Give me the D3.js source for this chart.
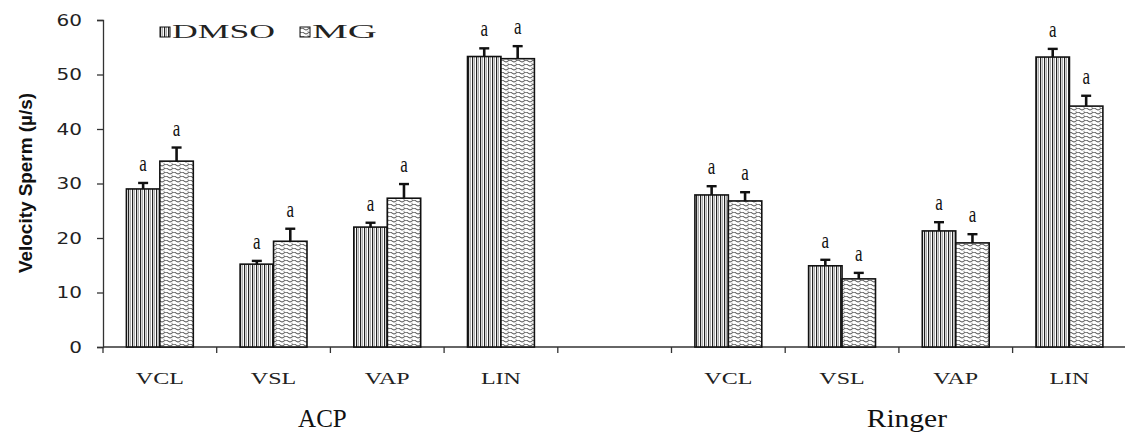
<!DOCTYPE html>
<html>
<head>
<meta charset="utf-8">
<script src="https://cdn.jsdelivr.net/npm/d3@7"></script>
<style>
  body { margin: 0; background: #fff; }
  svg { display: block; }
</style>
</head>
<body>
<svg id="chart" width="1125" height="437"></svg>
<script>
// values
let groups = ["ACP", "Ringer"];
let params = ["VCL", "VSL", "VAP", "LIN"];
let series = ["DMSO", "MG"];
let dmso = [29.0, 15.2, 22.0, 53.3, 27.9, 14.9, 21.3, 53.2];
let dmsoErr = [1.1, 0.6, 0.8, 1.5, 1.6, 1.1, 1.6, 1.5];
let mg = [34.1, 19.4, 27.3, 52.9, 26.8, 12.5, 19.1, 44.2];
let mgErr = [2.5, 2.3, 2.6, 2.3, 1.6, 1.1, 1.6, 1.9];
let sig = ["a", "a", "a", "a", "a", "a", "a", "a"];
let yTicks = [0, 10, 20, 30, 40, 50, 60];

// slots: 4 params, empty gap, 4 params
let slots = [];
groups.forEach(function(g, gi){
  params.forEach(function(p){ slots.push(g + "-" + p); });
  if(gi == 0) slots.push("gap");
});

let svg = d3.select("#chart");
let left = 103, zeroY = 347, topY = 20;
let serif = "Liberation Serif, Times New Roman, serif";

let x0 = d3.scaleBand().domain(slots).range([left, left + 9 * 113.7]).padding(0);
let x1 = d3.scaleBand().domain(series).range([0, x0.bandwidth()]).paddingInner(0).paddingOuter(0.7);
let y = d3.scaleLinear().domain([0, 60]).range([zeroY, topY]);

// stretch a text element horizontally, the figure's fonts are wide
function stretch(sel, k){
  sel.each(function(){
    let w = this.getComputedTextLength();
    d3.select(this).attr("textLength", w * k).attr("lengthAdjust", "spacingAndGlyphs");
  });
}

// patterns
let defs = svg.append("defs");
let pv = defs.append("pattern").attr("id", "vstripe").attr("patternUnits", "userSpaceOnUse")
  .attr("width", 4).attr("height", 4);
pv.append("rect").attr("width", 4).attr("height", 4).attr("fill", "#fff");
pv.append("rect").attr("x", 0).attr("width", 1.2).attr("height", 4).attr("fill", "#222");
pv.append("rect").attr("x", 2).attr("width", 0.8).attr("height", 4).attr("fill", "#999");

let pw = defs.append("pattern").attr("id", "wave").attr("patternUnits", "userSpaceOnUse")
  .attr("width", 8).attr("height", 4);
pw.append("rect").attr("width", 8).attr("height", 4).attr("fill", "#fff");
pw.append("path").attr("d", "M0,1 Q2,3.2 4,1 T8,1").attr("fill", "none")
  .attr("stroke", "#333").attr("stroke-width", 0.9);
pw.append("rect").attr("x", 3.5).attr("y", 2.8).attr("width", 1).attr("height", 1).attr("fill", "#777");

let fills = {DMSO: "url(#vstripe)", MG: "url(#wave)"};

// axes
let yAxis = d3.axisLeft(y).tickValues(yTicks).tickSize(6).tickPadding(15);
let gy = svg.append("g").attr("transform", "translate(" + left + ",0)").call(yAxis);
gy.select(".domain").attr("stroke", "#333").attr("stroke-width", 1.3);
gy.selectAll(".tick line").attr("stroke", "#333").attr("stroke-width", 1.3);
gy.selectAll("text").attr("font-family", "DejaVu Sans, Verdana, sans-serif")
  .attr("font-size", 16).attr("fill", "#222");
stretch(gy.selectAll("text"), 1.25);

svg.append("line").attr("x1", left).attr("x2", x0.range()[1]).attr("y1", zeroY).attr("y2", zeroY)
  .attr("stroke", "#333").attr("stroke-width", 1.3);
let bounds = slots.map(function(s){ return x0(s); });
svg.selectAll("line.xt").data(bounds).enter().append("line").attr("class", "xt")
  .attr("x1", d => d).attr("x2", d => d).attr("y1", zeroY).attr("y2", zeroY + 6)
  .attr("stroke", "#333").attr("stroke-width", 1.3);

// category labels
let cats = slots.filter(s => s != "gap");
let catText = svg.selectAll("text.cat").data(cats).enter().append("text").attr("class", "cat")
  .attr("x", d => x0(d) + x0.bandwidth() / 2).attr("y", 384)
  .attr("text-anchor", "middle").attr("font-family", serif)
  .attr("font-size", 16).attr("fill", "#222")
  .text(d => d.split("-")[1]);
stretch(catText, 1.5);

// group labels
let groupShift = [-8, 8];
let groupStretch = [1.0, 1.18];
groups.forEach(function(g, gi){
  let gs = slots.filter(s => s.indexOf(g + "-") == 0);
  let cx = (x0(gs[0]) + x0(gs[gs.length - 1]) + x0.bandwidth()) / 2;
  let t = svg.append("text").attr("x", cx + groupShift[gi]).attr("y", 427).attr("text-anchor", "middle")
    .attr("font-family", serif).attr("font-size", 25)
    .attr("fill", "#111").text(g);
  stretch(t, groupStretch[gi]);
});

// y title
let yt = svg.append("text").attr("transform", "translate(32," + 183 + ") rotate(-90)")
  .attr("text-anchor", "middle").attr("font-family", "Liberation Sans Narrow, Arial Narrow, Liberation Sans, sans-serif")
  .attr("font-weight", "bold").attr("font-size", 19).attr("fill", "#111")
  .text("Velocity Sperm (µ/s)");
yt.attr("textLength", 180).attr("lengthAdjust", "spacingAndGlyphs");

// bars
let rows = [];
cats.forEach(function(c, i){
  rows.push({cat: c, s: "DMSO", v: dmso[i], e: dmsoErr[i], lab: sig[i]});
  rows.push({cat: c, s: "MG", v: mg[i], e: mgErr[i], lab: sig[i]});
});

let bars = svg.append("g");
bars.selectAll("rect").data(rows).enter().append("rect")
  .attr("x", d => x0(d.cat) + x1(d.s)).attr("width", x1.bandwidth())
  .attr("y", d => y(d.v)).attr("height", d => zeroY - y(d.v))
  .attr("fill", d => fills[d.s]).attr("stroke", "#111").attr("stroke-width", 1.6);

// error bars (upper only)
let err = svg.append("g");
rows.forEach(function(d){
  let cx = x0(d.cat) + x1(d.s) + x1.bandwidth() / 2;
  let top = y(d.v + d.e);
  err.append("line").attr("x1", cx).attr("x2", cx).attr("y1", y(d.v)).attr("y2", top)
    .attr("stroke", "#111").attr("stroke-width", 2.6);
  err.append("line").attr("x1", cx - 5).attr("x2", cx + 5).attr("y1", top).attr("y2", top)
    .attr("stroke", "#111").attr("stroke-width", 2.4);
  svg.append("text").attr("transform", "translate(" + cx + "," + (top - 12) + ") scale(0.85,1.15)")
    .attr("text-anchor", "middle").attr("font-family", serif).attr("font-size", 20)
    .attr("fill", "#111").text(d.lab);
});

// legend
let leg = svg.append("g");
let legX = [160, 300];
let legW = [103, 65];
series.forEach(function(s, i){
  leg.append("rect").attr("x", legX[i]).attr("y", 27).attr("width", 10).attr("height", 10)
    .attr("fill", fills[s]).attr("stroke", "#111").attr("stroke-width", 1);
  leg.append("text").attr("x", legX[i] + 12).attr("y", 38)
    .attr("font-family", serif).attr("font-size", 19)
    .attr("textLength", legW[i]).attr("lengthAdjust", "spacingAndGlyphs")
    .attr("fill", "#222").text(s);
});
</script>
</body>
</html>
